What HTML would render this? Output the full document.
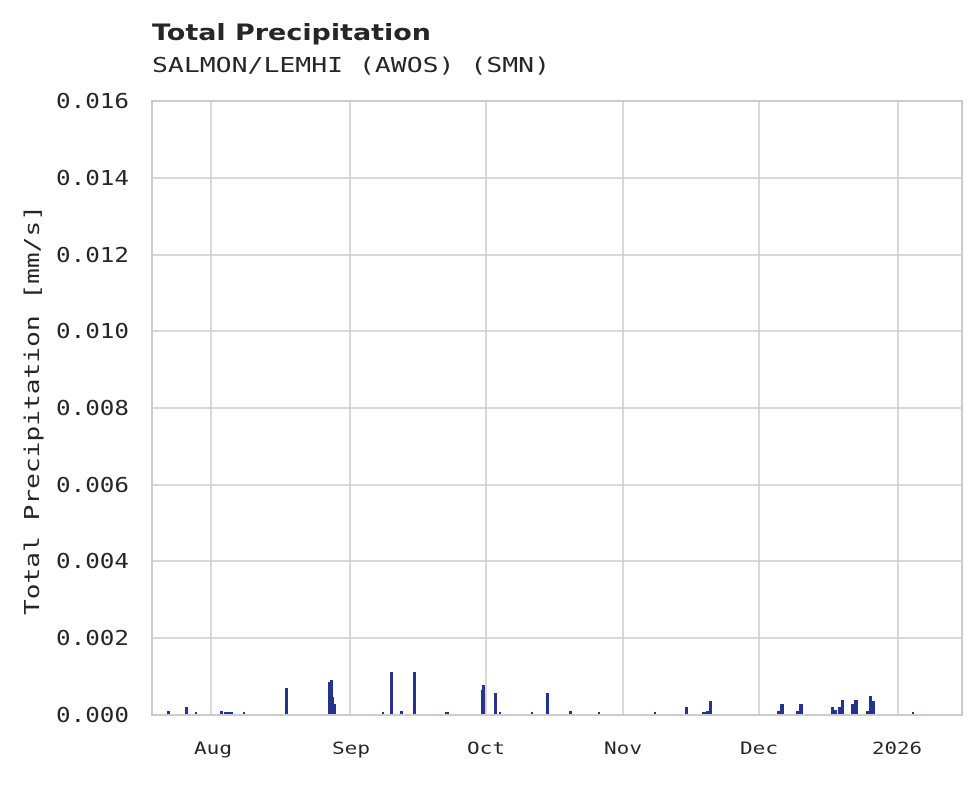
<!DOCTYPE html>
<html><head><meta charset="utf-8"><style>
body{margin:0;background:#fff;}
svg text{fill:#262626;}
</style></head><body>
<svg width="980" height="780" xmlns="http://www.w3.org/2000/svg">
<rect width="980" height="780" fill="#fff"/>
<text x="152" y="40" font-family="DejaVu Sans, sans-serif" font-weight="bold" font-size="22" textLength="279" lengthAdjust="spacingAndGlyphs">Total Precipitation</text>
<text x="152" y="72" font-family="DejaVu Sans Mono, monospace" font-size="20" textLength="398" lengthAdjust="spacingAndGlyphs">SALMON/LEMHI (AWOS) (SMN)</text>
<g stroke="#cccccc" stroke-width="1.5">
<line x1="152" x2="962" y1="178" y2="178"/><line x1="152" x2="962" y1="255" y2="255"/>
<line x1="152" x2="962" y1="331" y2="331"/><line x1="152" x2="962" y1="408" y2="408"/>
<line x1="152" x2="962" y1="485" y2="485"/><line x1="152" x2="962" y1="561" y2="561"/>
<line x1="152" x2="962" y1="638" y2="638"/>
<line x1="211" x2="211" y1="101" y2="715"/><line x1="350" x2="350" y1="101" y2="715"/>
<line x1="486" x2="486" y1="101" y2="715"/><line x1="623" x2="623" y1="101" y2="715"/>
<line x1="759" x2="759" y1="101" y2="715"/><line x1="898" x2="898" y1="101" y2="715"/>
</g>
<g fill="#25338f">
<rect x="167" y="711" width="3" height="4"/><rect x="185" y="707" width="3" height="8"/><rect x="195" y="712" width="2" height="3"/>
<rect x="220" y="711" width="3" height="4"/><rect x="224" y="712" width="9" height="3"/><rect x="243" y="712" width="2" height="3"/>
<rect x="285" y="688" width="3" height="27"/>
<rect x="328" y="682" width="2" height="33"/><rect x="330" y="680" width="3" height="35"/><rect x="332" y="697" width="2" height="18"/><rect x="334" y="704" width="2" height="11"/>
<rect x="382" y="712" width="2" height="3"/><rect x="390" y="672" width="3" height="43"/><rect x="400" y="711" width="3" height="4"/>
<rect x="413" y="672" width="3" height="43"/><rect x="445" y="712" width="4" height="3"/>
<rect x="481" y="690" width="2" height="25"/><rect x="482" y="685" width="3" height="30"/>
<rect x="494" y="693" width="3" height="22"/><rect x="499" y="712" width="2" height="3"/>
<rect x="531" y="712" width="2" height="3"/><rect x="546" y="693" width="3" height="22"/>
<rect x="569" y="711" width="3" height="4"/><rect x="598" y="712" width="2" height="3"/>
<rect x="654" y="712" width="2" height="3"/><rect x="685" y="707" width="3" height="8"/>
<rect x="702" y="712" width="4" height="3"/><rect x="706" y="711" width="3" height="4"/><rect x="709" y="701" width="3" height="14"/>
<rect x="777" y="711" width="3" height="4"/><rect x="780" y="704" width="4" height="11"/>
<rect x="796" y="711" width="3" height="4"/><rect x="799" y="704" width="4" height="11"/>
<rect x="831" y="707" width="3" height="8"/><rect x="834" y="710" width="3" height="5"/>
<rect x="838" y="707" width="3" height="8"/><rect x="841" y="700" width="3" height="15"/>
<rect x="851" y="704" width="3" height="11"/><rect x="854" y="700" width="4" height="15"/>
<rect x="866" y="711" width="3" height="4"/><rect x="869" y="696" width="3" height="19"/><rect x="872" y="701" width="3" height="14"/>
<rect x="912" y="712" width="2" height="3"/>
</g>
<rect x="152" y="101" width="810" height="614" fill="none" stroke="#cccccc" stroke-width="2"/>
<g font-family="DejaVu Sans Mono, monospace" font-size="20">
<text x="56" y="108" textLength="73" lengthAdjust="spacingAndGlyphs">0.016</text><text x="56" y="185" textLength="73" lengthAdjust="spacingAndGlyphs">0.014</text><text x="56" y="262" textLength="73" lengthAdjust="spacingAndGlyphs">0.012</text>
<text x="56" y="338" textLength="73" lengthAdjust="spacingAndGlyphs">0.010</text><text x="56" y="415" textLength="73" lengthAdjust="spacingAndGlyphs">0.008</text><text x="56" y="492" textLength="73" lengthAdjust="spacingAndGlyphs">0.006</text>
<text x="56" y="568" textLength="73" lengthAdjust="spacingAndGlyphs">0.004</text><text x="56" y="645" textLength="73" lengthAdjust="spacingAndGlyphs">0.002</text><text x="56" y="722" textLength="73" lengthAdjust="spacingAndGlyphs">0.000</text>
</g>
<g font-family="DejaVu Sans Mono, monospace" font-size="17">
<text x="194" y="754" textLength="38" lengthAdjust="spacingAndGlyphs">Aug</text><text x="332" y="754" textLength="38" lengthAdjust="spacingAndGlyphs">Sep</text><text x="467" y="754" textLength="38" lengthAdjust="spacingAndGlyphs">Oct</text>
<text x="604" y="754" textLength="38" lengthAdjust="spacingAndGlyphs">Nov</text><text x="740" y="754" textLength="38" lengthAdjust="spacingAndGlyphs">Dec</text><text x="872" y="754" textLength="50" lengthAdjust="spacingAndGlyphs">2026</text>
</g>
<text transform="translate(39,615) rotate(-90)" font-family="DejaVu Sans Mono, monospace" font-size="20" textLength="410" lengthAdjust="spacingAndGlyphs">Total Precipitation [mm/s]</text>
</svg>
</body></html>
